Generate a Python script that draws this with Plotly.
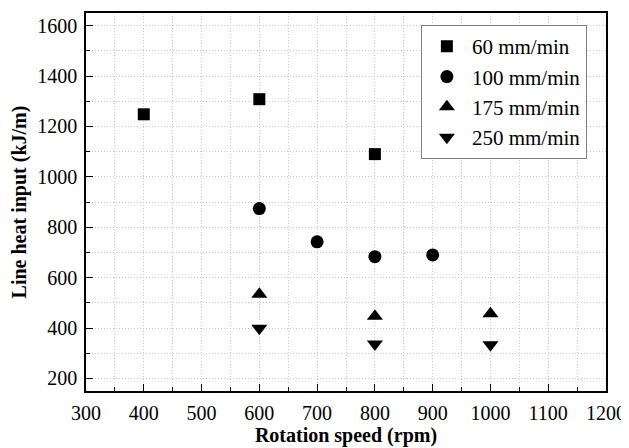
import plotly.graph_objects as go

speed_60 = [400, 600, 800]
heat_60 = [1248, 1308, 1090]
speed_100 = [600, 700, 800, 900]
heat_100 = [874, 742, 683, 690]
speed_175 = [600, 800, 1000]
heat_175 = [534, 447, 457]
speed_250 = [600, 800, 1000]
heat_250 = [399, 337, 334]

series = [
    ("60 mm/min", speed_60, heat_60, "square", 12),
    ("100 mm/min", speed_100, heat_100, "circle", 13),
    ("175 mm/min", speed_175, heat_175, "triangle-up", 14),
    ("250 mm/min", speed_250, heat_250, "triangle-down", 14),
]

fig = go.Figure()
for name, xs, ys, sym, sz in series:
    fig.add_trace(go.Scatter(x=xs, y=ys, mode="markers", name=name,
                             marker=dict(symbol=sym, size=sz, color="black")))

font = "Liberation Serif"
grid_dash = "1px,2px"
axis_common = dict(
    showline=True, linecolor="black", linewidth=1.5, mirror=True,
    ticks="inside", ticklen=7, tickwidth=1.2, tickcolor="black",
    showgrid=True, gridcolor="#c8c8c8", griddash=grid_dash, gridwidth=1,
    zeroline=False, tickfont=dict(family=font, size=20, color="black"),
    ticklabelstandoff=3,
)
fig.update_xaxes(range=[300, 1200], dtick=100, tick0=300,
                 minor=dict(dtick=50, ticks="inside", ticklen=4, tickcolor="black",
                            showgrid=True, gridcolor="#c8c8c8", griddash=grid_dash),
                 title=dict(text="<b>Rotation speed (rpm)</b>",
                            font=dict(family=font, size=20, color="black"), standoff=4),
                 **axis_common)
fig.update_yaxes(range=[150, 1650], dtick=200, tick0=200,
                 minor=dict(dtick=100, ticks="inside", ticklen=4, tickcolor="black",
                            showgrid=True, gridcolor="#c8c8c8", griddash=grid_dash),
                 title=dict(text="<b>Line heat input (kJ/m)</b>",
                            font=dict(family=font, size=20, color="black"), standoff=8),
                 **axis_common)
fig.update_layout(
    width=621, height=440,
    margin=dict(l=78, r=23, t=3, b=57),
    paper_bgcolor="white", plot_bgcolor="white",
    font=dict(family=font, color="black"),
    legend=dict(x=0.644, y=0.968, xanchor="left", yanchor="top",
                bordercolor="#808080", borderwidth=1, bgcolor="white",
                font=dict(family=font, size=21, color="black"),
                itemwidth=40, tracegroupgap=0),
    showlegend=True,
)
fig.write_html("out.html")
